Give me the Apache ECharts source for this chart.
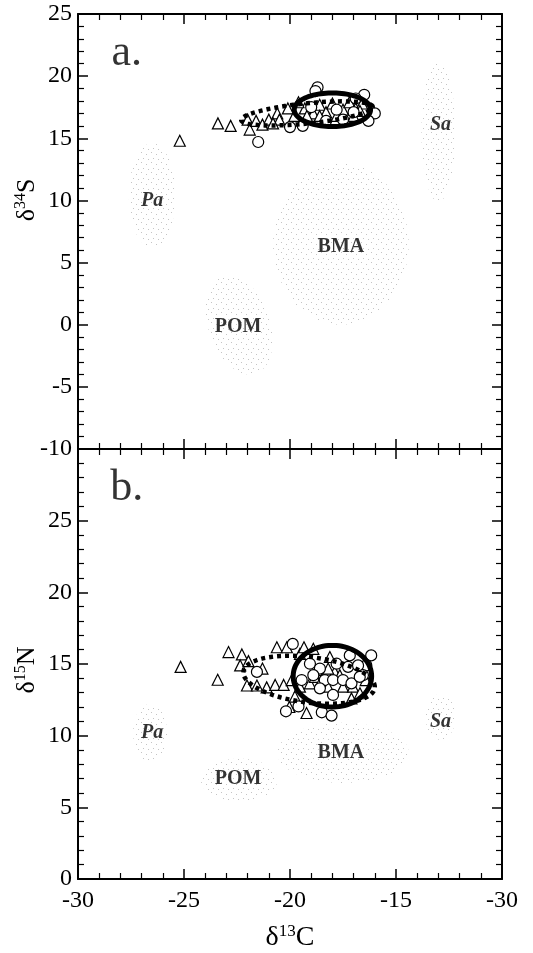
<!DOCTYPE html>
<html><head><meta charset="utf-8">
<script src="https://cdn.jsdelivr.net/npm/echarts@6/dist/echarts.min.js"></script>
<style>html,body{margin:0;padding:0;background:#fff}#c{width:533px;height:953px}</style>
</head><body><div id="c"></div>
<script>
// ---------- DATA ----------
const xTickValues = [-30, -25, -20, -15, -10];
const xTickLabels = ['-30', '-25', '-20', '-15', '-30'];
const yTicksA = [-10, -5, 0, 5, 10, 15, 20, 25];
const yTicksB = [0, 5, 10, 15, 20, 25];

// panel a (d13C, d34S)
const trianglesA = [[-25.2,14.8],[-23.4,16.2],[-22.8,16.0],[-21.9,15.7],[-22.0,16.5],[-21.6,16.4],[-21.0,16.5],[-20.6,17.0],[-20.5,16.5],[-20.1,17.4],[-19.8,16.8],[-19.3,17.4],[-18.9,17.0],[-18.6,17.7],[-18.3,17.1],[-18.0,17.8],[-17.5,17.3],[-17.2,17.9],[-16.9,17.4],[-16.6,17.8],[-17.8,16.8],[-18.6,16.8],[-19.2,16.8],[-21.3,16.1],[-20.8,16.2],[-19.6,17.9],[-17.0,16.8],[-16.7,17.2]];
const circlesA = [[-21.5,14.7],[-18.7,19.1],[-18.8,18.8],[-20.0,15.9],[-19.4,16.0],[-16.5,18.5],[-16.0,17.0],[-16.3,16.4],[-17.8,17.3],[-17.0,17.1],[-18.3,16.4],[-19.0,17.5],[-17.5,16.5],[-16.9,18.2]];
// ellipses: [cx, cy, ux, uy, vx, vy]
const solidEllipseA = [[-18.0, 17.3, 1.8, 0, 0, 1.35]];
const dottedEllipseA = [[-19.2, 17.0, 3.1, 0.55, -0.1, 0.8]];
const sourcesA = [[-26.5,10.4,1.1,0,0,4.2],[-13.0,15.5,0.8,0,0,5.6],[-17.6,6.5,3.2,0,0,6.5],[-22.4,0.0,1.5,0,-0.5,4.0]];
const sourceLabelsA = [['Pa',-26.5,10.0,true],['Sa',-12.9,16.1,true],['BMA',-17.6,6.3,false],['POM',-22.45,-0.2,false]];
const panelLabelA = ['a.', -27.7, 21.8];

// panel b (d13C, d15N)
const trianglesB = [[-25.16,14.8],[-23.41,13.9],[-22.9,15.83],[-22.27,15.67],[-22.35,14.9],[-21.96,15.2],[-22.03,13.5],[-21.56,13.5],[-21.3,14.68],[-21.1,13.37],[-20.7,13.54],[-20.62,16.17],[-20.15,16.17],[-20.3,13.54],[-20.03,12.0],[-19.92,13.88],[-19.77,12.73],[-19.53,13.42],[-19.53,15.71],[-19.34,16.17],[-19.22,11.58],[-18.9,16.06],[-19.06,13.65],[-18.67,14.57],[-18.83,14.1],[-18.51,13.88],[-18.2,13.42],[-18.12,15.49],[-17.89,14.45],[-17.65,14.22],[-17.5,13.42],[-17.03,13.42],[-17.1,12.6],[-16.7,12.96],[-16.43,13.88],[-18.2,14.68]];
const circlesB = [[-19.87,16.4],[-20.19,11.7],[-19.6,12.04],[-18.5,11.63],[-18.04,11.4],[-16.17,15.6],[-16.4,14.9],[-16.56,14.22],[-19.06,15.02],[-18.59,14.68],[-18.9,14.22],[-18.36,13.88],[-17.97,13.88],[-18.59,13.3],[-17.97,12.84],[-17.5,13.88],[-17.1,13.65],[-17.18,15.6],[-17.26,14.8],[-16.79,14.9],[-21.56,14.45],[-19.45,13.88],[-17.8,15.02],[-16.71,14.1]];
const solidEllipseB = [[-18.0, 14.15, 1.85, 0, 0, 2.15]];
const dottedEllipseB = [[-19.1, 13.9, 3.1, -0.5, 0, 1.6]];
const sourcesB = [[-26.6,10.2,0.8,0,0,2.0],[-12.9,11.3,0.7,0,0,1.6],[-17.5,8.8,3.1,0,0,2.1],[-22.4,6.9,1.8,0,0,1.5]];
const sourceLabelsB = [['Pa',-26.5,10.2,true],['Sa',-12.9,11.0,true],['BMA',-17.6,8.8,false],['POM',-22.45,7.0,false]];
const panelLabelB = ['b.', -27.7, 27.25];

// ---------- RENDER ----------
const FONT = "'Liberation Serif', 'Times New Roman', serif";
const pc = document.createElement('canvas');
pc.width = 10; pc.height = 10;
const pctx = pc.getContext('2d');
pctx.fillStyle = '#c4c4c4';
[[1,2],[6,4],[3,8],[8,9]].forEach(p => pctx.fillRect(p[0], p[1], 1, 1));
const stipple = { image: pc, repeat: 'repeat' };

function ellipseRender(styleFn) {
  return function (params, api) {
    const cx = api.value(0), cy = api.value(1), ux = api.value(2), uy = api.value(3), vx = api.value(4), vy = api.value(5);
    const pts = [];
    const N = 90;
    for (let i = 0; i < N; i++) {
      const t = i / N * Math.PI * 2;
      pts.push(api.coord([cx + ux * Math.cos(t) + vx * Math.sin(t), cy + uy * Math.cos(t) + vy * Math.sin(t)]));
    }
    return { type: 'polygon', shape: { points: pts }, style: styleFn() };
  };
}

function xAxisDef(gi, pos, labels, name) {
  return {
    gridIndex: gi, type: 'value', position: pos, min: -30, max: -10, interval: 5,
    axisLine: { onZero: false, lineStyle: { color: '#000', width: 2 } },
    axisTick: { inside: true, length: 10, lineStyle: { color: '#000', width: 1.5 } },
    minorTick: { show: true, splitNumber: 5, length: 6, lineStyle: { color: '#000', width: 1.2 } },
    splitLine: { show: false },
    axisLabel: labels ? {
      show: true, margin: 10, color: '#000', fontFamily: FONT, fontSize: 24,
      formatter: v => { const i = xTickValues.indexOf(v); return i >= 0 ? xTickLabels[i] : ''; }
    } : { show: false },
    name: name || '', nameLocation: 'middle', nameGap: 44,
    nameTextStyle: {
      color: '#000', fontFamily: FONT,
      rich: { m: { fontSize: 28, fontFamily: FONT, color: '#000', lineHeight: 30 }, s: { fontSize: 17, fontFamily: FONT, color: '#000', verticalAlign: 'top', lineHeight: 30 } }
    }
  };
}
function yAxisDef(gi, pos, min, max, ticks, labels) {
  return {
    gridIndex: gi, type: 'value', position: pos, min: min, max: max, interval: 5,
    axisLine: { onZero: false, lineStyle: { color: '#000', width: 2 } },
    axisTick: { inside: true, length: 10, lineStyle: { color: '#000', width: 1.5 } },
    minorTick: { show: true, splitNumber: 5, length: 6, lineStyle: { color: '#000', width: 1.2 } },
    splitLine: { show: false },
    axisLabel: labels ? {
      show: true, margin: 6, color: '#000', fontFamily: FONT, fontSize: 24,
      formatter: v => ticks.indexOf(v) >= 0 ? String(v) : ''
    } : { show: false }
  };
}

function panelSeries(xi, yi, tri, cir, solid, dotted, sources, srcLabels, panelLabel) {
  return [
    { type: 'custom', xAxisIndex: xi, yAxisIndex: yi, z: 1, silent: true, data: sources,
      renderItem: ellipseRender(() => ({ fill: stipple, stroke: null })) },
    { type: 'scatter', xAxisIndex: xi, yAxisIndex: yi, z: 3, symbol: 'triangle', symbolSize: 11, data: tri,
      itemStyle: { color: '#fff', borderColor: '#000', borderWidth: 1.2, opacity: 1 } },
    { type: 'scatter', xAxisIndex: xi, yAxisIndex: yi, z: 3, symbol: 'circle', symbolSize: 11, data: cir,
      itemStyle: { color: '#fff', borderColor: '#000', borderWidth: 1.2, opacity: 1 } },
    { type: 'custom', xAxisIndex: xi, yAxisIndex: yi, z: 4, silent: true, data: dotted,
      renderItem: ellipseRender(() => ({ fill: null, stroke: '#000', lineWidth: 4.5, lineDash: [4, 4] })) },
    { type: 'custom', xAxisIndex: xi, yAxisIndex: yi, z: 5, silent: true, data: solid,
      renderItem: ellipseRender(() => ({ fill: null, stroke: '#000', lineWidth: 5 })) },
    { type: 'scatter', xAxisIndex: xi, yAxisIndex: yi, z: 6, symbolSize: 1, silent: true,
      itemStyle: { color: 'rgba(0,0,0,0)' },
      data: srcLabels.map(d => ({ name: d[0], value: [d[1], d[2]],
        label: { fontStyle: d[3] ? 'italic' : 'normal' } })),
      label: { show: true, position: 'inside', formatter: p => p.name, color: '#000', fontFamily: FONT, fontSize: 20, fontWeight: 'bold' } },
    { type: 'scatter', xAxisIndex: xi, yAxisIndex: yi, z: 6, symbolSize: 1, silent: true,
      itemStyle: { color: 'rgba(0,0,0,0)' },
      data: [{ name: panelLabel[0], value: [panelLabel[1], panelLabel[2]] }],
      label: { show: true, position: 'inside', formatter: p => p.name, color: '#000', fontFamily: FONT, fontSize: 44 } }
  ];
}

const chart = echarts.init(document.getElementById('c'), null, { renderer: 'canvas' });
const richY = { m: { fontSize: 26, fontFamily: FONT, color: '#000', lineHeight: 28 }, s: { fontSize: 16, fontFamily: FONT, color: '#000', verticalAlign: 'top', lineHeight: 28 } };
chart.setOption({
  backgroundColor: '#fff',
  animation: false,
  grid: [
    { left: 78, right: 31, top: 14, height: 435 },
    { left: 78, right: 31, top: 449, height: 436 }
  ],
  xAxis: [
    xAxisDef(0, 'bottom', false),
    xAxisDef(0, 'top', false),
    xAxisDef(1, 'bottom', true, '{m|δ}{s|13}{m|C}'),
    xAxisDef(1, 'top', false)
  ],
  yAxis: [
    yAxisDef(0, 'left', -10, 25, yTicksA, true),
    yAxisDef(0, 'right', -10, 25, yTicksA, false),
    yAxisDef(1, 'left', 0, 30, yTicksB, true),
    yAxisDef(1, 'right', 0, 30, yTicksB, false)
  ],
  graphic: [
    { type: 'text', x: 27, y: 200, rotation: Math.PI / 2, z: 10,
      style: { text: '{m|δ}{s|34}{m|S}', rich: richY, align: 'center', verticalAlign: 'middle' } },
    { type: 'text', x: 27, y: 670, rotation: Math.PI / 2, z: 10,
      style: { text: '{m|δ}{s|15}{m|N}', rich: richY, align: 'center', verticalAlign: 'middle' } }
  ],
  series: [].concat(
    panelSeries(0, 0, trianglesA, circlesA, solidEllipseA, dottedEllipseA, sourcesA, sourceLabelsA, panelLabelA),
    panelSeries(2, 2, trianglesB, circlesB, solidEllipseB, dottedEllipseB, sourcesB, sourceLabelsB, panelLabelB)
  )
});
</script></body></html>
